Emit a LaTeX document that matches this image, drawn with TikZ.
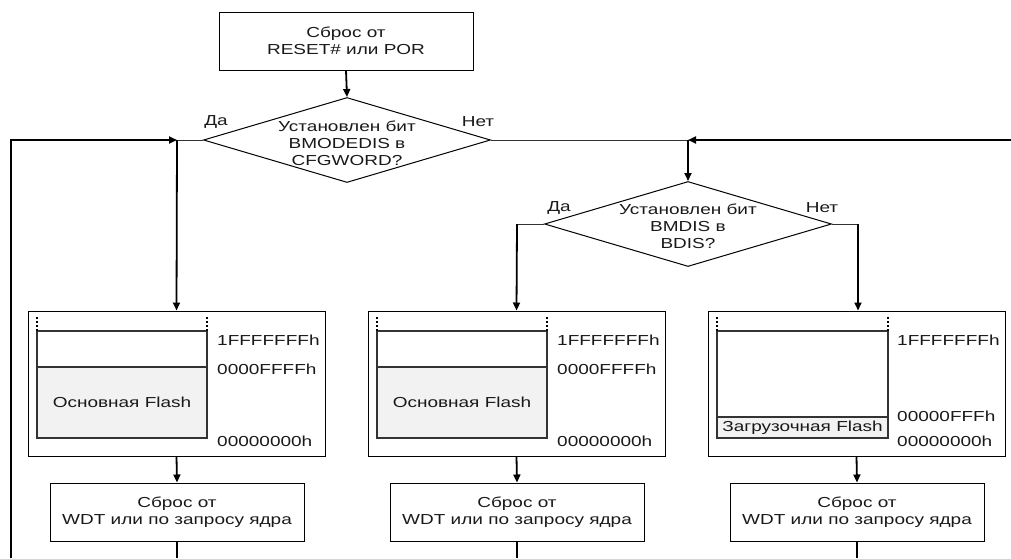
\documentclass[tikz,border=0pt]{standalone}
\usepackage{fontspec}
\setmainfont[FakeStretch=1.31]{Liberation Sans}
\usetikzlibrary{shapes.geometric,arrows.meta}
\begin{document}
\begin{tikzpicture}[x=1pt,y=-1pt,
  every node/.style={font=\fontsize{14.5}{17}\selectfont, text=black!90},
  procbox/.style={draw, line width=1pt, minimum width=254pt, minimum height=58pt, align=center, inner sep=0pt},
  decide/.style={draw, diamond, line width=1pt, minimum width=287pt, minimum height=85pt, inner sep=0pt},
  memouter/.style={draw, line width=1pt, minimum width=297pt, minimum height=145pt, inner sep=0pt},
  meminner/.style={draw=black!80, line width=1.3pt},
  memfill/.style={fill=black!5},
  dots/.style={line width=1.6pt, dash pattern=on 2pt off 2pt},
  addr/.style={anchor=west, inner sep=0pt},
  lbl/.style={inner sep=0pt},
  thin/.style={line width=0.9pt, draw=black!80},
  thick/.style={line width=1.8pt},
  arr/.style={thick, -{Triangle[length=8pt,width=7pt]}}
]
\useasboundingbox (0,0) rectangle (1011,558);

% top box and decisions
\node[procbox] (start) at (346,41) {Сброс от\\RESET\# или POR};
\node[decide] (d1) at (347,140) {};
\node[lbl, align=center] (d1t) at (347,143) {Установлен бит\\BMODEDIS в\\CFGWORD?};
\node[lbl] (d1y) at (216,122) {Да};
\node[lbl] (d1n) at (478,122) {Нет};

\node[decide] (d2) at (688,224) {};
\node[lbl, align=center] (d2t) at (688,226) {Установлен бит\\BMDIS в\\BDIS?};
\node[lbl] (d2y) at (559,208) {Да};
\node[lbl] (d2n) at (822,208) {Нет};

\coordinate (j1) at (177,140);
\coordinate (j2) at (688,140);
\coordinate (lft) at (11,558);
\coordinate (lftc) at (11,140);
\coordinate (rgt) at (1011,140);
\coordinate (k2) at (517,224);
\coordinate (k3) at (858,224);

% memory blocks
\node[memouter] (m1) at (176.5,383.5) {};
\node[memouter] (m2) at (516.5,383.5) {};
\node[memouter] (m3) at (856.5,383.5) {};

% block 1
\fill[memfill] (37,367) rectangle (207,438);
\draw[meminner] (37,331) rectangle (207,438);
\draw[meminner] (37,367) -- (207,367);
\draw[dots] (37,317) -- (37,331);
\draw[dots] (207,317) -- (207,331);
\node[lbl] (f1) at (122,402.5) {Основная Flash};
\node[addr] (a11) at (217,340) {1FFFFFFFh};
\node[addr] (a12) at (217,369) {0000FFFFh};
\node[addr] (a13) at (217,441) {00000000h};

% block 2
\fill[memfill] (377,367) rectangle (547,438);
\draw[meminner] (377,331) rectangle (547,438);
\draw[meminner] (377,367) -- (547,367);
\draw[dots] (377,317) -- (377,331);
\draw[dots] (547,317) -- (547,331);
\node[lbl] (f2) at (462,402.5) {Основная Flash};
\node[addr] (a21) at (557,340) {1FFFFFFFh};
\node[addr] (a22) at (557,369) {0000FFFFh};
\node[addr] (a23) at (557,441) {00000000h};

% block 3
\fill[memfill] (717,417) rectangle (888,438);
\draw[meminner] (717,331) rectangle (888,438);
\draw[meminner] (717,417) -- (888,417);
\draw[dots] (717,317) -- (717,331);
\draw[dots] (888,317) -- (888,331);
\node[lbl] (f3) at (802.5,427.5) {Загрузочная Flash};
\node[addr] (a31) at (897,340) {1FFFFFFFh};
\node[addr] (a32) at (897,416) {00000FFFh};
\node[addr] (a33) at (897,441) {00000000h};

% reset boxes
\node[procbox] (p1) at (177,512) {Сброс от\\WDT или по запросу ядра};
\node[procbox] (p2) at (517,512) {Сброс от\\WDT или по запросу ядра};
\node[procbox] (p3) at (857,512) {Сброс от\\WDT или по запросу ядра};
\coordinate (b1) at (177,558);
\coordinate (b2) at (517,558);
\coordinate (b3) at (857,558);

% connectors
\draw[arr] (start.south) -- (d1.north);
\draw[thin] (d1.west) -- (j1);
\draw[thin] (d1.east) -- (j2);
\draw[arr] (lft) -- (lftc) -- (j1);
\draw[arr] (rgt) -- (j2);
\draw[arr] (j1) -- (m1.north);
\draw[arr] (j2) -- (d2.north);
\draw[thin] (d2.west) -- (k2);
\draw[thin] (d2.east) -- (k3);
\draw[arr] (k2) -- (m2.north);
\draw[arr] (k3) -- (k3 |- m3.north);
\draw[arr] (m1.south) -- (p1.north);
\draw[arr] (m2.south) -- (p2.north);
\draw[arr] (m3.south) -- (p3.north);
\draw[thick] (p1.south) -- (b1);
\draw[thick] (p2.south) -- (b2);
\draw[thick] (p3.south) -- (b3);
\end{tikzpicture}
\end{document}
